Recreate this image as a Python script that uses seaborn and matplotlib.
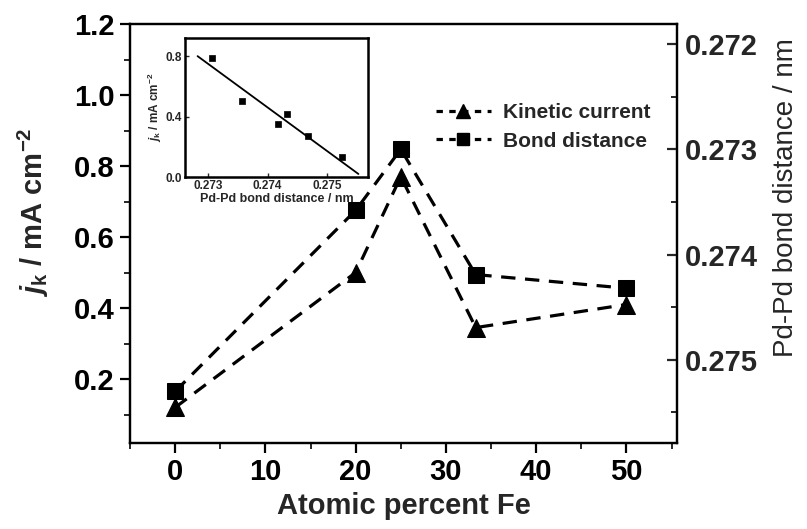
import matplotlib
matplotlib.use("Agg")
import matplotlib.pyplot as plt
import seaborn as sns
import pandas as pd
from matplotlib.lines import Line2D
from matplotlib.ticker import MultipleLocator

# ---- data ----
fe_percent = [0, 20, 25, 33.3, 50]
kinetic_current = [0.12, 0.50, 0.77, 0.345, 0.41]
bond_distance = [0.27530, 0.27358, 0.27300, 0.27419, 0.27432]

inset_bond = [0.27307, 0.27358, 0.27418, 0.27432, 0.27468, 0.27525]
inset_current = [0.79, 0.50, 0.35, 0.42, 0.27, 0.13]
fit_bond = [0.27283, 0.27552]
fit_current = [0.80, 0.02]

x_ticks = [0, 10, 20, 30, 40, 50]
y_ticks = [0.2, 0.4, 0.6, 0.8, 1.0, 1.2]
y2_ticks = [0.272, 0.273, 0.274, 0.275]
inset_xticks = [0.273, 0.274, 0.275]
inset_yticks = [0.0, 0.4, 0.8]

sns.set_theme(style="ticks")
plt.rcParams["font.family"] = ["Liberation Sans", "DejaVu Sans"]
plt.rcParams["font.weight"] = "bold"
plt.rcParams["mathtext.fontset"] = "custom"
plt.rcParams["mathtext.rm"] = "Liberation Sans:bold"
plt.rcParams["mathtext.it"] = "Liberation Sans:italic:bold"
plt.rcParams["mathtext.bf"] = "Liberation Sans:bold"

fig = plt.figure(figsize=(8.07, 5.29), dpi=100)
ax = fig.add_axes([130/807, 1-443/529, (677-130)/807, (443-24)/529])
ax2 = ax.twinx()

df = pd.DataFrame({"fe": fe_percent, "jk": kinetic_current, "d": bond_distance})

dash = (0, (4.5, 3))
sns.lineplot(data=df, x="fe", y="jk", ax=ax, color="black", marker="^",
             markersize=12.5, linewidth=2.3, linestyle=dash,
             markeredgecolor="black", sort=False)
sns.lineplot(data=df, x="fe", y="d", ax=ax2, color="black", marker="s",
             markersize=11, linewidth=2.3, linestyle=dash,
             markeredgecolor="black", sort=False)

ax.set_xlim(-5, 55.6)
ax.set_ylim(0.02, 1.2)
ax2.set_ylim(0.27579, 0.27181)

ax.set_xticks(x_ticks)
ax.set_yticks(y_ticks)
ax2.set_yticks(y2_ticks)
ax.xaxis.set_minor_locator(MultipleLocator(5))
ax.yaxis.set_minor_locator(MultipleLocator(0.1))
ax2.yaxis.set_minor_locator(MultipleLocator(0.0005))
ax.set_yticklabels([f"{v:.1f}" for v in y_ticks])
ax2.set_yticklabels([f"{v:.3f}" for v in y2_ticks])

for a in (ax, ax2):
    for s in a.spines.values():
        s.set_linewidth(1.6)
        s.set_color("black")
ax.spines["top"].set_visible(True)

ax.tick_params(axis="both", which="major", direction="out", length=7, width=1.6,
               labelsize=21, pad=4, colors="black")
ax.tick_params(axis="both", which="minor", direction="out", length=4, width=1.4)
ax.tick_params(axis="x", which="both", top=False)
ax2.tick_params(axis="y", which="major", direction="in", length=7, width=1.6,
                labelsize=21, pad=6)
ax2.tick_params(axis="y", which="minor", direction="in", length=4, width=1.4)

ax.set_xlabel("Atomic percent Fe", fontsize=21, fontweight="bold", labelpad=4)
ax.set_ylabel(r"$j_\mathrm{k}$ / mA cm$^{-2}$", fontsize=21, fontweight="bold")
ax2.set_ylabel("Pd-Pd bond distance / nm", fontsize=20, fontweight="normal",
               rotation=90)
ax.yaxis.set_label_coords(-0.145, 0.55)
ax2.yaxis.set_label_coords(1.175, 0.585)

handles = [
    Line2D([], [], color="black", marker="^", markersize=10, linewidth=2.3,
           linestyle=(0, (2, 2))),
    Line2D([], [], color="black", marker="s", markersize=8, linewidth=2.3,
           linestyle=(0, (2, 2))),
]
fig.legend(handles, ["Kinetic current", "Bond distance"], loc="upper left",
           bbox_to_anchor=(428/807, 1-95/529), frameon=False,
           prop={"size": 15, "weight": "bold"}, handlelength=2.6,
           handletextpad=0.6, labelspacing=0.45, borderaxespad=0)

# ---- inset ----
axin = fig.add_axes([185/807, 1-177/529, (368-185)/807, (177-38)/529])
sns.scatterplot(x=inset_bond, y=inset_current, ax=axin, marker="s", s=22,
                color="black", edgecolor="black", linewidth=0.5)
sns.lineplot(x=fit_bond, y=fit_current, ax=axin, color="black", linewidth=1.3)
axin.set_xlim(0.27262, 0.27568)
axin.set_ylim(0.0, 0.92)
axin.set_xticks(inset_xticks)
axin.set_yticks(inset_yticks)
axin.set_xticklabels([f"{v:.3f}" for v in inset_xticks])
axin.set_yticklabels([f"{v:.1f}" for v in inset_yticks])
for s in axin.spines.values():
    s.set_linewidth(1.8)
    s.set_color("black")
axin.tick_params(axis="both", direction="in", length=3, width=1.0,
                 labelsize=8.5, pad=2)
axin.set_xlabel("Pd-Pd bond distance / nm", fontsize=9, fontweight="bold",
                labelpad=1)
axin.set_ylabel(r"$j_\mathrm{k}$ / mA cm$^{-2}$", fontsize=8.5,
                fontweight="bold", labelpad=1)

fig.savefig("out.png", dpi=100)
